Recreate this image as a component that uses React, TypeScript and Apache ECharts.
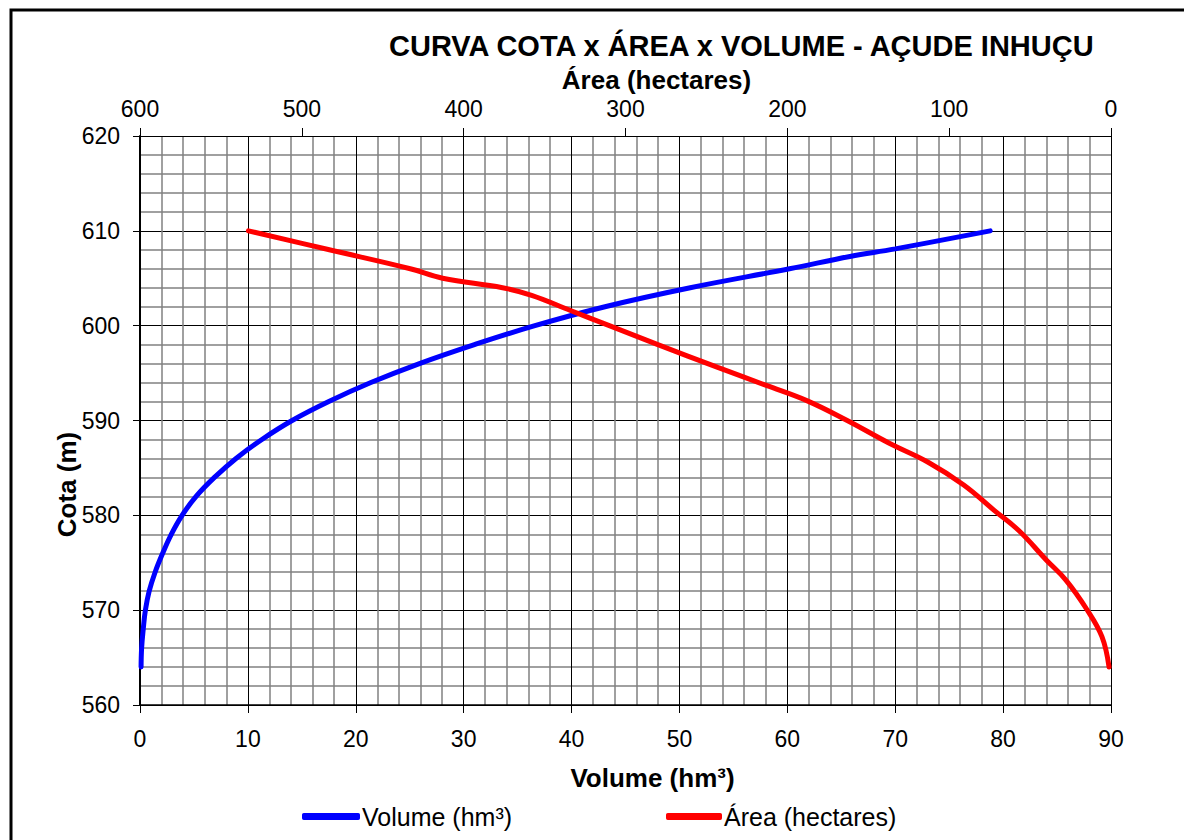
import React, { useEffect, useRef } from "react";
import * as echarts from "echarts";

const TITLE = "CURVA COTA x ÁREA x VOLUME - AÇUDE INHUÇU";
const VOLUME_NAME = "Volume (hm³)";
const AREA_NAME = "Área (hectares)";

// Volume curve: cota (m) vs volume (hm³)
const volumeCota = [564, 566, 568, 570, 572, 574, 576, 578, 580, 582, 584, 586, 588, 590, 592, 594, 596, 598, 600, 602, 604, 606, 607.3, 608.1, 610];
const volumeValues = [0.1, 0.15, 0.3, 0.5, 0.85, 1.4, 2.1, 2.9, 3.9, 5.2, 6.9, 8.9, 11.3, 14.1, 17.5, 21.4, 25.9, 31, 36.6, 43.1, 51, 60.2, 65.8, 70, 78.8];

// Area curve: cota (m) vs area (hectares)
const areaCota = [610, 608, 606, 605, 604, 603.2, 601.6, 600, 598, 595.6, 593.7, 592.1, 590, 587.6, 585.6, 583.2, 580.5, 578.4, 575.3, 573.2, 570.1, 567.2, 564];
const areaValues = [533, 483, 433, 413, 376, 358, 334, 310, 280, 243, 213, 188, 163, 137, 113, 91, 72, 57, 40, 28, 15, 5.6, 1.2];

const FONT = "Liberation Sans, Arial, sans-serif";

export default function App() {
  const ref = useRef<HTMLDivElement>(null);
  useEffect(() => {
    if (!ref.current) return;
    const chart = echarts.init(ref.current, undefined, { renderer: "svg" });
    const volData = volumeCota.map((c, i) => [volumeValues[i], c]);
    const areaData = areaCota.map((c, i) => [areaValues[i], c]);
    const labelStyle = { color: "#000", fontSize: 23, fontFamily: FONT };
    const nameStyle = { color: "#000", fontSize: 26, fontWeight: "bold" as const, fontFamily: FONT };
    chart.setOption({
      animation: false,
      backgroundColor: "#fff",
      textStyle: { fontFamily: FONT },
      title: {
        text: TITLE,
        left: 384,
        top: 26,
        textStyle: { color: "#000", fontSize: 29, fontWeight: "bold", fontFamily: FONT },
      },
      graphic: [
        {
          type: "rect",
          shape: { x: 11, y: 10, width: 1300, height: 1000 },
          style: { fill: "none", stroke: "#000", lineWidth: 3 },
          silent: true,
        },
      ],
      legend: [
        {
          data: [VOLUME_NAME],
          left: 297,
          top: 799,
          itemWidth: 58,
          itemHeight: 7,
          icon: "roundRect",
          textStyle: { color: "#000", fontSize: 25, fontFamily: FONT, padding: [0, 0, 0, -3] },
        },
        {
          data: [AREA_NAME],
          left: 661,
          top: 799,
          itemWidth: 56,
          itemHeight: 7,
          icon: "roundRect",
          textStyle: { color: "#000", fontSize: 25, fontFamily: FONT, padding: [0, 0, 0, -3] },
        },
      ],
      grid: { left: 140, right: 73, top: 136, bottom: 135, containLabel: false },
      xAxis: [
        {
          type: "value",
          position: "bottom",
          min: 0,
          max: 90,
          interval: 10,
          name: VOLUME_NAME,
          nameLocation: "middle",
          nameGap: 60,
          nameMoveOverlap: false,
          nameTextStyle: { ...nameStyle, padding: [0, 0, 0, 54] },
          axisLine: { show: true, onZero: false, lineStyle: { color: "#000", width: 1.5 } },
          axisTick: { show: true, length: 8, lineStyle: { color: "#000", width: 1 } },
          axisLabel: { ...labelStyle, margin: 22 },
          splitLine: { show: true, lineStyle: { color: "#000", width: 1 } },
          minorTick: { show: false, splitNumber: 5 },
          minorSplitLine: { show: true, lineStyle: { color: "#808080", width: 1.5 } },
        },
        {
          type: "value",
          position: "top",
          min: 0,
          max: 600,
          interval: 100,
          inverse: true,
          name: AREA_NAME,
          nameLocation: "middle",
          nameGap: 43,
          nameMoveOverlap: false,
          nameTextStyle: { ...nameStyle, padding: [0, 0, 0, 62] },
          axisLine: { show: true, onZero: false, lineStyle: { color: "#000", width: 1 } },
          axisTick: { show: true, length: 8, lineStyle: { color: "#000", width: 1 } },
          axisLabel: { ...labelStyle, margin: 16 },
          splitLine: { show: false },
        },
      ],
      yAxis: {
        type: "value",
        min: 560,
        max: 620,
        interval: 10,
        name: "Cota (m)",
        nameLocation: "middle",
        nameGap: 60,
        nameMoveOverlap: false,
        nameTextStyle: { ...nameStyle, padding: [0, 128, 0, 0] },
        axisLine: { show: true, onZero: false, lineStyle: { color: "#000", width: 2 } },
        axisTick: { show: true, length: 7, lineStyle: { color: "#000", width: 1 } },
        axisLabel: { ...labelStyle, margin: 20 },
        splitLine: { show: true, lineStyle: { color: "#000", width: 1 } },
        minorTick: { show: false, splitNumber: 5 },
        minorSplitLine: { show: true, lineStyle: { color: "#808080", width: 1.5 } },
      },
      series: [
        {
          name: VOLUME_NAME,
          type: "line",
          xAxisIndex: 0,
          data: volData,
          showSymbol: false,
          smooth: 0.4,
          color: "#0000ff",
          lineStyle: { color: "#0000ff", width: 5, cap: "round" },
        },
        {
          name: AREA_NAME,
          type: "line",
          xAxisIndex: 1,
          data: areaData,
          showSymbol: false,
          smooth: 0.4,
          color: "#ff0000",
          lineStyle: { color: "#ff0000", width: 5, cap: "round" },
        },
      ],
    });
    return () => chart.dispose();
  }, []);
  return (
    <div
      ref={ref}
      style={{ position: "fixed", left: 0, top: 0, width: 1184, height: 840 }}
    />
  );
}
